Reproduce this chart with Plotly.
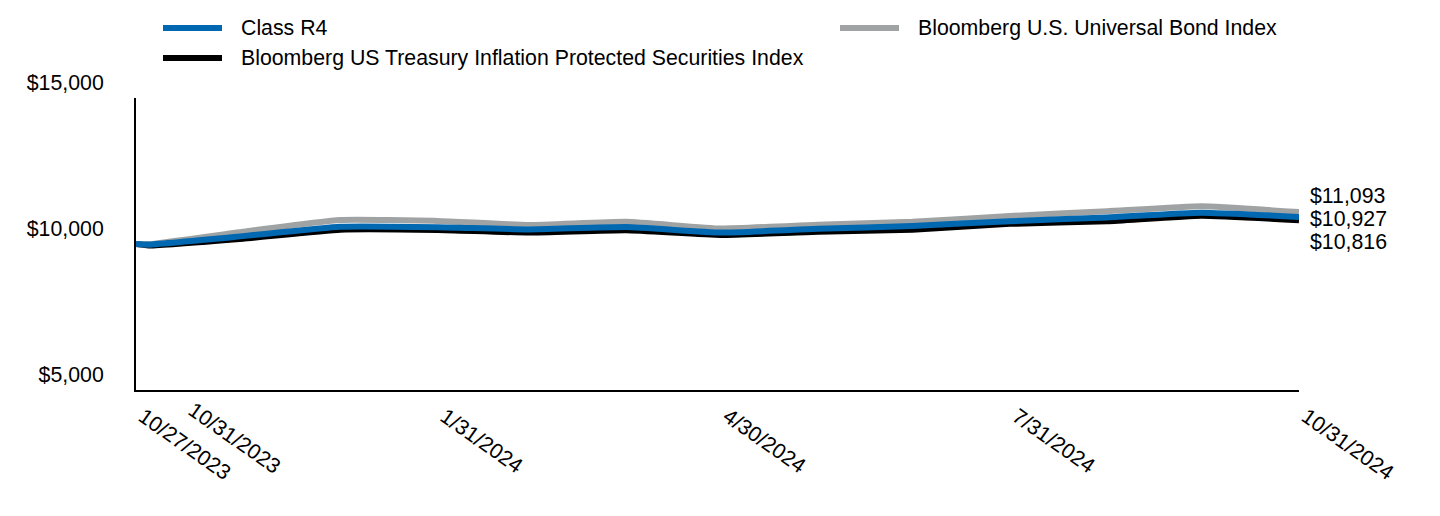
import plotly.graph_objects as go

dates = ["2023-10-27", "2023-10-31", "2023-11-30", "2023-12-31", "2024-01-31", "2024-02-29",
         "2024-03-31", "2024-04-30", "2024-05-31", "2024-06-30", "2024-07-31", "2024-08-31",
         "2024-09-30", "2024-10-31"]

class_r4 = [10000, 9980, 10270, 10590, 10575, 10500, 10580, 10390, 10520, 10620, 10780, 10910, 11070, 10927]
universal = [10000, 9990, 10420, 10820, 10790, 10650, 10760, 10530, 10660, 10760, 10960, 11120, 11290, 11093]
tips = [10000, 9950, 10180, 10490, 10480, 10390, 10470, 10310, 10420, 10490, 10690, 10780, 10970, 10816]

names = ["Class R4", "Bloomberg U.S. Universal Bond Index",
         "Bloomberg US Treasury Inflation Protected Securities Index"]
end_labels = ["$10,927", "$11,093", "$10,816"]

tick_dates = ["2023-10-27", "2024-01-31", "2024-04-30", "2024-07-31", "2024-10-31"]
tick_text = ["10/27/2023", "1/31/2024", "4/30/2024", "7/31/2024", "10/31/2024"]
extra_tick_date = "2023-10-31"
extra_tick_text = "10/31/2023"

y_ticks = [5000, 10000, 15000]
y_tick_text = ["$5,000", "$10,000", "$15,000"]

BLUE = "#0067B1"
GRAY = "#A0A3A3"
BLACK = "#000000"
FONT = "Arial, Liberation Sans, sans-serif"
FS = 21.3

fig = go.Figure()
# draw order: black bottom, gray, blue on top
fig.add_trace(go.Scatter(x=dates, y=tips, mode="lines", name=names[2],
                         line=dict(color=BLACK, width=6, shape="spline", smoothing=0.4)))
fig.add_trace(go.Scatter(x=dates, y=universal, mode="lines", name=names[1],
                         line=dict(color=GRAY, width=6, shape="spline", smoothing=0.4)))
fig.add_trace(go.Scatter(x=dates, y=class_r4, mode="lines", name=names[0],
                         line=dict(color=BLUE, width=6, shape="spline", smoothing=0.4)))

# page body has an 8px margin, so work in figure coordinates offset by 8px
OFF = 8
W, H = 1432, 508
L, T = 136 - OFF, 98 - OFF
R = W - (1299 - OFF)
B = H - (390 - OFF)
pw = W - L - R
ph = H - T - B

def px(xs):
    return (xs - OFF - L) / pw

def py(ys):
    return (H - B - (ys - OFF)) / ph

annotations = []
shapes = []
# manual legend (screen pixel positions)
legend_items = [
    (names[0], BLUE, 163, 28),
    (names[1], GRAY, 840, 28),
    (names[2], BLACK, 163, 58),
]
for name, color, x0, y0 in legend_items:
    shapes.append(dict(type="line", xref="paper", yref="paper",
                       x0=px(x0), x1=px(x0 + 59), y0=py(y0), y1=py(y0),
                       line=dict(color=color, width=6)))
    annotations.append(dict(xref="paper", yref="paper", x=px(x0 + 76), y=py(y0),
                            text=name, showarrow=False, xanchor="left", yanchor="middle",
                            font=dict(size=FS, color="#000", family=FONT)))

# end labels
for lbl, val, ys in [(end_labels[1], universal[-1], 16),
                     (end_labels[0], class_r4[-1], -2),
                     (end_labels[2], tips[-1], -22)]:
    annotations.append(dict(x=dates[-1], y=val, text=lbl, showarrow=False,
                            xanchor="left", yanchor="middle", xshift=9, yshift=ys,
                            font=dict(size=FS, color="#000", family=FONT)))

# extra shifted x tick label
annotations.append(dict(x=extra_tick_date, y=0, yref="paper", text=extra_tick_text,
                        showarrow=False, textangle=35, xanchor="left", yanchor="top",
                        xshift=32, yshift=-5,
                        font=dict(size=FS, color="#000", family=FONT)))

fig.update_layout(
    width=W, height=H,
    margin=dict(l=L, r=R, t=T, b=B, autoexpand=False),
    paper_bgcolor="white", plot_bgcolor="white",
    showlegend=False,
    font=dict(family=FONT, size=FS, color="#000"),
    shapes=shapes,
    annotations=annotations,
    xaxis=dict(type="date", range=["2023-10-27", "2024-10-31"], automargin=False,
               tickvals=tick_dates, ticktext=tick_text, tickangle=35,
               ticklabelshift=7, ticklabelstandoff=4,
               showgrid=False, zeroline=False, showline=True, linecolor="#000", linewidth=2,
               ticks="", tickfont=dict(size=FS, color="#000", family=FONT)),
    yaxis=dict(range=[5000, 15000], tickvals=y_ticks, ticktext=y_tick_text, automargin=False,
               showgrid=False, zeroline=False, showline=True, linecolor="#000", linewidth=2,
               ticks="", ticklabelposition="outside top", ticklabelstandoff=26,
               ticklabelshift=-1,
               tickfont=dict(size=FS, color="#000", family=FONT)),
)

fig.write_html("out.html")
